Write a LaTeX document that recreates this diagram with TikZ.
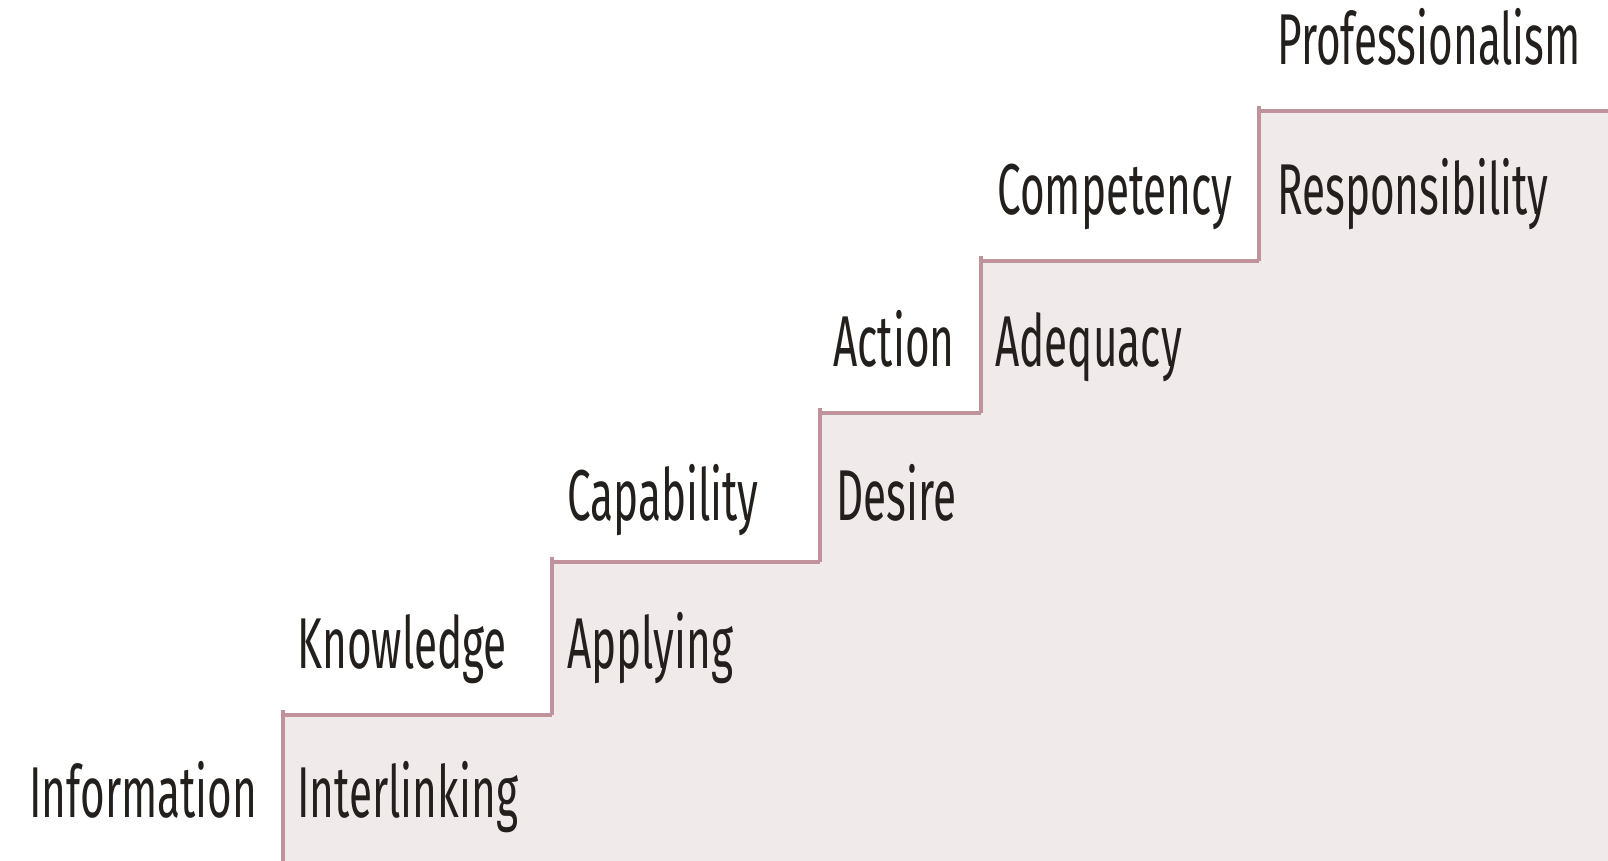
\documentclass[tikz,border=0pt]{standalone}
\usepackage{fontspec}
\setmainfont{Fira Sans}[FakeStretch=0.587]
\usetikzlibrary{positioning}
\definecolor{stairfill}{HTML}{F0EAEB}
\definecolor{stairline}{HTML}{C0939C}
\definecolor{ink}{HTML}{231F1C}
\tikzset{word/.style={anchor=base west, inner sep=0pt, text=ink, font=\fontsize{36}{40}\selectfont},
edge/.style={draw=stairline, line width=2pt}
}

\begin{document}
\begin{tikzpicture}[x=0.5pt, y=-0.5pt]
\useasboundingbox (0,0) rectangle (1608,861);
% stairs
\fill[stairfill] (283,861) -- (283,715) -- (552,715) -- (552,562) -- (820,562) -- (820,413) -- (981,413) -- (981,261) -- (1259,261) -- (1259,111) -- (1608,111) -- (1608,861) -- cycle;
\foreach \x/\y/\ylow/\xnext in {283/715/861/552, 552/562/715/820, 820/413/562/981, 981/261/413/1259, 1259/111/261/1608}
  \draw[edge] (\x,\y-5) -- (\x,\ylow) (\x,\y) -- (\xnext,\y);

\node[word] (information) at (29,817) {Information};
\node[word] (interlinking) at (297,817) {Interlinking};
\node[word] (knowledge) at (297,668) {Knowledge};
\node[word] (applying) at (567,668) {Applying};
\node[word] (capability) at (567,520) {Capability};
\node[word] (desire) at (836,520) {Desire};
\node[word] (action) at (833,367) {Action};
\node[word] (adequacy) at (995,367) {Adequacy};
\node[word] (competency) at (997,215) {Competency};
\node[word] (responsibility) at (1277,215) {Responsibility};
\node[word] (professionalism) at (1277,65) {Professionalism};
\end{tikzpicture}
\end{document}
